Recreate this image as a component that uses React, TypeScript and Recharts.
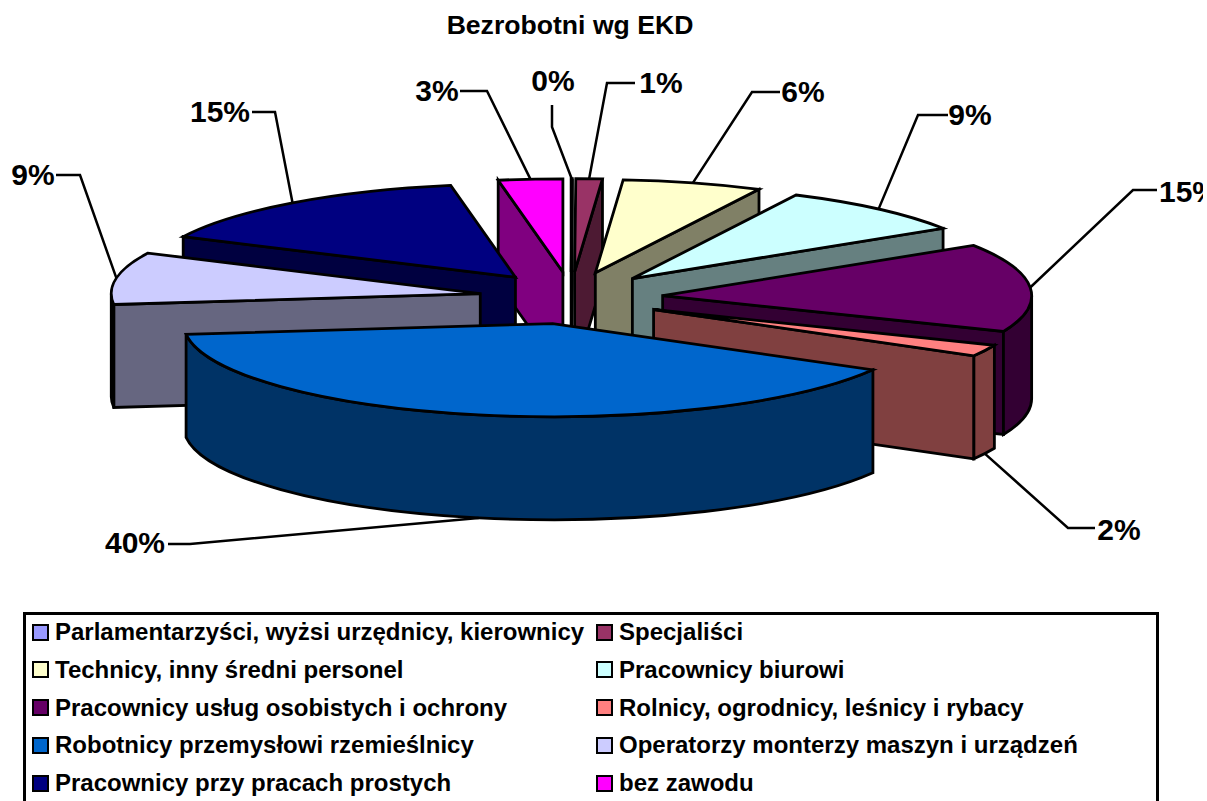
import React from 'react';
import { PieChart, Pie, Legend } from 'recharts';

const categories = [
  'Parlamentarzyści, wyżsi urzędnicy, kierownicy',
  'Specjaliści',
  'Technicy, inny średni personel',
  'Pracownicy biurowi',
  'Pracownicy usług osobistych i ochrony',
  'Rolnicy, ogrodnicy, leśnicy i rybacy',
  'Robotnicy przemysłowi rzemieślnicy',
  'Operatorzy monterzy maszyn i urządzeń',
  'Pracownicy przy pracach prostych',
  'bez zawodu',
];
const shares = [0.05, 1.15, 6.1, 8.6, 15.3, 2, 39.8, 9, 15, 2.8];
const topColors = ['#9999ff', '#993366', '#ffffcc', '#ccffff', '#660066', '#ff8080', '#0066cc', '#ccccff', '#000080', '#ff00ff'];
const wallColors = ['#4d4d80', '#4d1a33', '#808066', '#668080', '#330033', '#804040', '#003366', '#666680', '#000040', '#800080'];
const paintOrder = [9, 0, 1, 2, 3, 4, 5, 8, 7, 6];
const leaderStarts = [[552, 105], [635, 83], [780, 92], [948, 115], [1157, 190], [1095, 528], [168, 544], [56, 175], [252, 112], [460, 91]];
const leaderElbows = [[552, 127], [607, 83], [752, 92], [918, 115], [1133, 190], [1068, 528], [190, 544], [80, 175], [275, 112], [487, 91]];
const labelCentres = [[553, 81], [661, 83], [803, 92], [970, 115], [1189, 192], [1119, 530], [135, 543], [33, 175], [220, 112], [437, 91]];

const tableData = categories.map((name, i) => ({ name, value: shares[i] }));

const W = 1203;
const H = 801;
const CX = 571;
const CY = 298;
const RX = 369;
const TILT = 0.2527;
const EXPLODE_X = 92 / 369;
const EXPLODE_Y = 26 / 93;
const DEPTH = 103;
const FONT = '"Liberation Sans", Arial, sans-serif';
const rad = (d: number) => (d * Math.PI) / 180;

function geometry(cx: number, cy: number, r: number, startAngle: number, endAngle: number) {
  const a = 90 - startAngle;
  const b = 90 - endAngle;
  const ry = r * TILT;
  const mid = (a + b) / 2;
  const ax = cx + EXPLODE_X * r * Math.sin(rad(mid));
  const ay = cy - EXPLODE_Y * ry * Math.cos(rad(mid));
  const pt = (t: number, dy = 0): [number, number] => [ax + r * Math.sin(rad(t)), ay - ry * Math.cos(rad(t)) + dy];
  return { a, b, ry, mid, ax, ay, pt };
}

function SliceLayer(props: any) {
  const { cx, cy, outerRadius, startAngle, endAngle, index, layer } = props;
  if (index !== layer) return null;
  const { a, b, ry, ax, ay, pt } = geometry(cx, cy, outerRadius, startAngle, endAngle);
  const r = outerRadius;
  const stroke = { stroke: '#000', strokeWidth: 2.8, strokeLinejoin: 'miter' as const };
  const pa = pt(a);
  const pb = pt(b);
  const walls: React.ReactNode[] = [];
  if (Math.sin(rad(a)) < -1e-6) {
    const pad = pt(a, DEPTH);
    walls.push(
      <path key="s" fill={wallColors[index]} {...stroke}
        d={`M${ax},${ay} L${pa[0]},${pa[1]} L${pad[0]},${pad[1]} L${ax},${ay + DEPTH} Z`} />,
    );
  }
  if (Math.sin(rad(b)) > 1e-6) {
    const pbd = pt(b, DEPTH);
    walls.push(
      <path key="e" fill={wallColors[index]} {...stroke}
        d={`M${ax},${ay} L${pb[0]},${pb[1]} L${pbd[0]},${pbd[1]} L${ax},${ay + DEPTH} Z`} />,
    );
  }
  const ra = Math.max(a, 90);
  const rb = Math.min(b, 270);
  if (rb > ra) {
    const p1 = pt(ra);
    const p2 = pt(rb);
    const p3 = pt(rb, DEPTH);
    const p4 = pt(ra, DEPTH);
    walls.push(
      <path key="r" fill={wallColors[index]} {...stroke}
        d={`M${p1[0]},${p1[1]} A${r},${ry} 0 0 1 ${p2[0]},${p2[1]} L${p3[0]},${p3[1]} A${r},${ry} 0 0 0 ${p4[0]},${p4[1]} Z`} />,
    );
  }
  return (
    <g>
      {walls}
      <path fill={topColors[index]} {...stroke}
        d={`M${ax},${ay} L${pa[0]},${pa[1]} A${r},${ry} 0 ${b - a > 180 ? 1 : 0} 1 ${pb[0]},${pb[1]} Z`} />
    </g>
  );
}

function SliceLabel(props: any) {
  const { cx, cy, outerRadius, midAngle, percent, index } = props;
  const { ax, ay, ry } = geometry(cx, cy, outerRadius, midAngle, midAngle);
  const t = 90 - midAngle;
  const norm = ((t % 360) + 360) % 360;
  const front = norm > 90 && norm < 270;
  const ex = ax + outerRadius * Math.sin(rad(norm));
  const ey = ay - ry * Math.cos(rad(norm)) + (front ? DEPTH : 0);
  const s = leaderStarts[index];
  const m = leaderElbows[index];
  const c = labelCentres[index];
  return (
    <g>
      <path d={`M${s[0]},${s[1]} L${m[0]},${m[1]} L${ex},${ey}`} fill="none" stroke="#000" strokeWidth={2.5} />
      <text x={c[0]} y={c[1]} dy="0.33em" textAnchor="middle" fontFamily={FONT} fontWeight="bold" fontSize={30} fill="#000">
        {`${Math.round(percent * 100)}%`}
      </text>
    </g>
  );
}

function LegendBox() {
  return (
    <div style={{
      boxSizing: 'border-box', width: 1136, height: 210, border: '3px solid #000', background: '#fff',
      position: 'relative', fontFamily: FONT, fontWeight: 'bold', fontSize: 24, color: '#000',
    }}>
      {categories.map((name, i) => {
        const col = i % 2;
        const row = Math.floor(i / 2);
        return (
          <div key={name} style={{ position: 'absolute', left: col ? 570 : 6, top: 0 + row * 37.8, height: 34, display: 'flex', alignItems: 'center', whiteSpace: 'nowrap' }}>
            <span style={{ boxSizing: 'border-box', display: 'inline-block', width: 17, height: 17, border: '2px solid #000', background: topColors[i], marginRight: 6 }} />
            <span>{name}</span>
          </div>
        );
      })}
    </div>
  );
}

export default function App() {
  return (
    <div style={{ position: 'absolute', left: 0, top: 0, width: W, height: H, overflow: 'hidden', background: '#fff' }}>
      <PieChart width={W} height={H} margin={{ top: 0, right: 0, bottom: 0, left: 0 }}>
        <text x={570} y={24} dy="0.36em" textAnchor="middle" fontFamily={FONT} fontWeight="bold" fontSize={26.6} fill="#000">
          Bezrobotni wg EKD
        </text>
        {paintOrder.map((layer) => (
          <Pie
            key={layer}
            data={tableData}
            dataKey="value"
            nameKey="name"
            cx={CX}
            cy={CY}
            innerRadius={0}
            outerRadius={RX}
            startAngle={90}
            endAngle={-270}
            stroke="none"
            isAnimationActive={false}
            legendType="none"
            shape={(p: any) => <SliceLayer {...p} layer={layer} />}
            label={false}
            labelLine={false}
          />
        ))}
        <Pie
          data={tableData}
          dataKey="value"
          nameKey="name"
          cx={CX}
          cy={CY}
          innerRadius={0}
          outerRadius={RX}
          startAngle={90}
          endAngle={-270}
          isAnimationActive={false}
          legendType="none"
          shape={() => null}
          label={(p: any) => <SliceLabel {...p} />}
          labelLine={false}
        />
        <Legend
          content={() => <LegendBox />}
          verticalAlign="bottom"
          wrapperStyle={{ left: 23, top: 612, bottom: 'auto', width: 1136, height: 210 }}
        />
      </PieChart>
    </div>
  );
}
